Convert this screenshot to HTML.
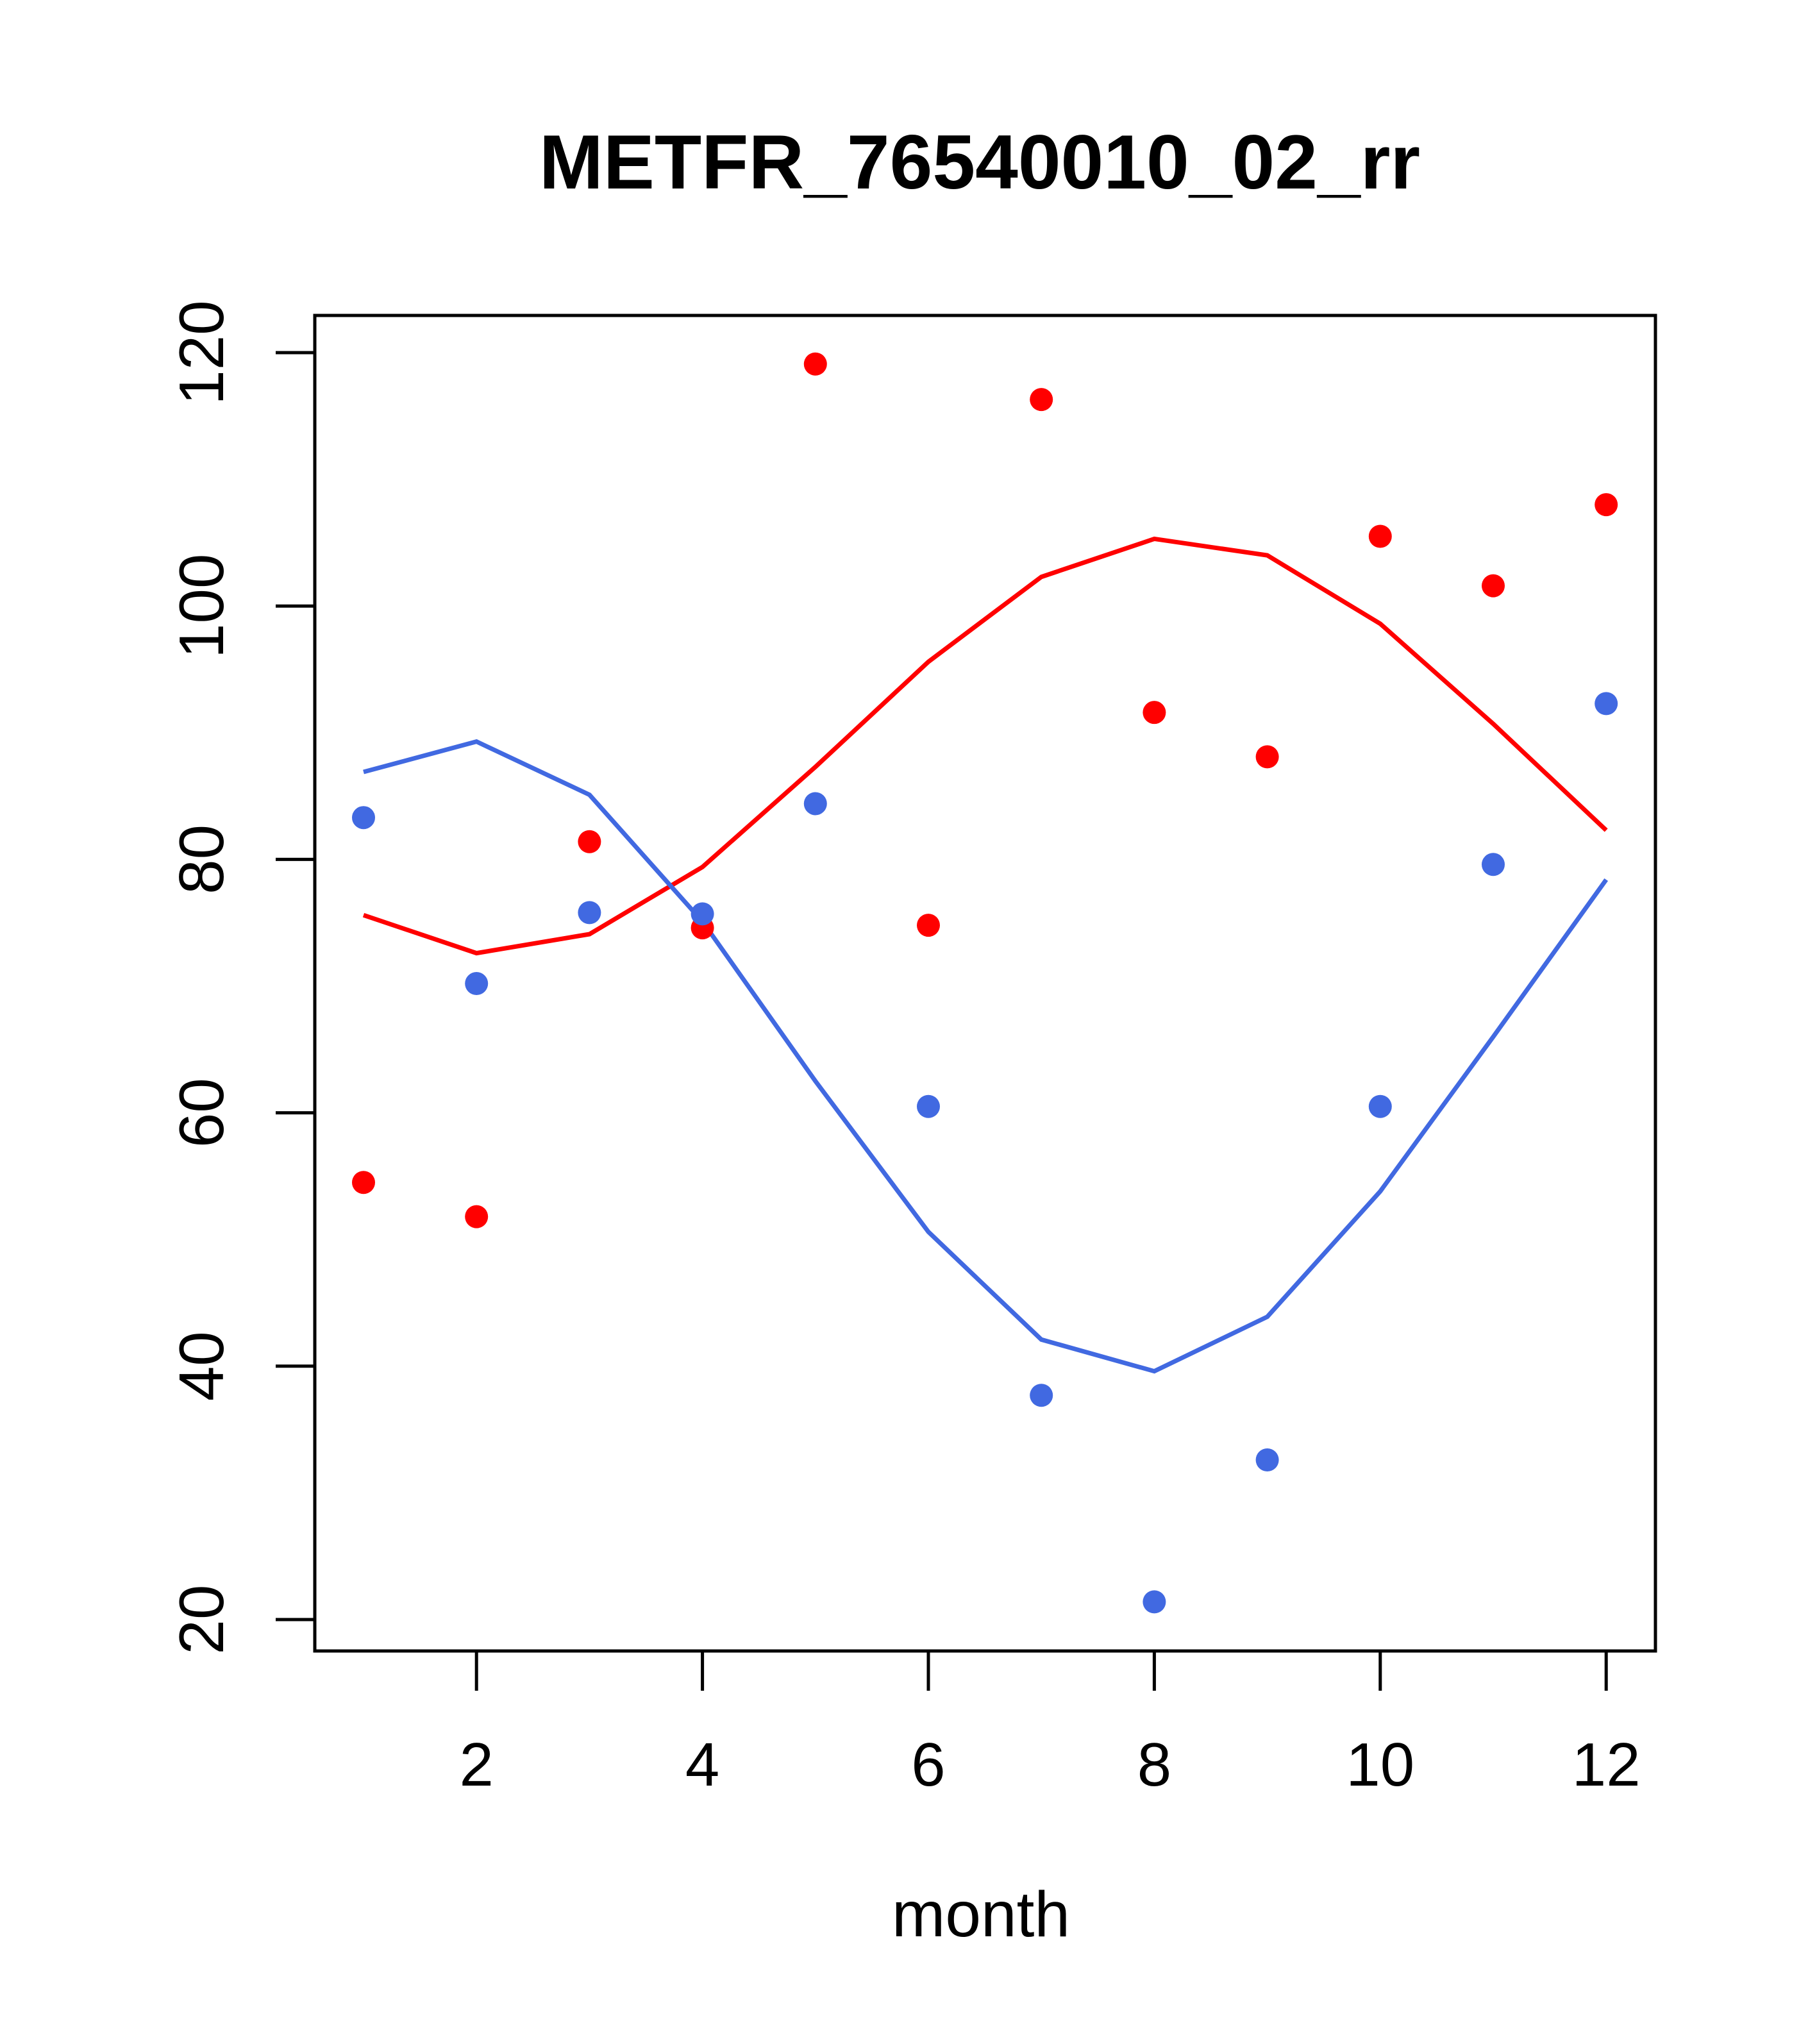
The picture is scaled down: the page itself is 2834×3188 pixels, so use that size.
<!DOCTYPE html>
<html><head><meta charset="utf-8"><style>
html,body{margin:0;padding:0;background:#fff}
svg{display:block}
text{font-family:"Liberation Sans",Arial,sans-serif;fill:#000}
</style></head><body>
<svg id="chart" width="2834" height="3188" viewBox="0 0 2834 3188" xmlns="http://www.w3.org/2000/svg">
<rect width="2834" height="3188" fill="#fff"/>
<text x="1528" y="253" text-anchor="middle" dominant-baseline="central" font-size="120" font-weight="bold">METFR_76540010_02_rr</text>
<g id="marks"></g>
<rect x="491" y="492" width="2091" height="2083" fill="none" stroke="#000" stroke-width="5"/>
<g id="xaxis"></g>
<g id="yaxis"></g>
<text x="1530" y="3020" text-anchor="middle" font-size="100">month</text>
</svg>
<script>
const months=[1,2,3,4,5,6,7,8,9,10,11,12];
const redPoints=[54.5,51.8,81.4,74.6,119.1,74.8,116.3,91.6,88.1,105.5,101.6,108.0];
const bluePoints=[83.3,70.2,75.8,75.7,84.4,60.5,37.7,21.4,32.6,60.5,79.6,92.3];
const redLine=[75.6,72.6,74.1,79.4,87.3,95.6,102.3,105.3,104.0,98.6,90.7,82.3];
const blueLine=[86.9,89.3,85.1,75.1,62.5,50.6,42.1,39.6,43.9,53.8,66.0,78.4];
const xTicks=[2,4,6,8,10,12];
const yTicks=[20,40,60,80,100,120];
const NS="http://www.w3.org/2000/svg";
function xs(v){return 567+(v-1)*176.2;}
function ys(v){return 550+(120-v)*19.76;}
function mk(tag,attrs,parent){const e=document.createElementNS(NS,tag);for(const k in attrs)e.setAttribute(k,attrs[k]);parent.appendChild(e);return e;}
const marks=document.getElementById('marks');
function drawLine(vals,color,name){
  const p=mk('polyline',{points:vals.map((v,i)=>xs(months[i])+','+ys(v)).join(' '),fill:'none',stroke:color,'stroke-width':7},marks);
  
  
}
function drawPts(vals,color,name){
  vals.forEach((v,i)=>{
    const c=mk('circle',{cx:xs(months[i]),cy:ys(v),r:18,fill:color},marks);
    
    
  });
}
drawLine(redLine,'#FF0000','red-line');
drawLine(blueLine,'#4169E1','blue-line');
drawPts(redPoints,'#FF0000','red-point');
drawPts(bluePoints,'#4169E1','blue-point');
const xa=document.getElementById('xaxis');
const xl=mk('line',{x1:xs(xTicks[0]),x2:xs(xTicks[xTicks.length-1]),y1:2575,y2:2575,stroke:'#000','stroke-width':5},xa);


xTicks.forEach(t=>{
  const l=mk('line',{x1:xs(t),x2:xs(t),y1:2575,y2:2637,stroke:'#000','stroke-width':5},xa);
  
  
  const tx=mk('text',{x:xs(t),y:2785,'text-anchor':'middle','font-size':96},xa);
  tx.textContent=t;
  
  
});
const ya=document.getElementById('yaxis');
const yl=mk('line',{x1:491,x2:491,y1:ys(yTicks[0]),y2:ys(yTicks[yTicks.length-1]),stroke:'#000','stroke-width':5},ya);


yTicks.forEach(t=>{
  const l=mk('line',{x1:430,x2:491,y1:ys(t),y2:ys(t),stroke:'#000','stroke-width':5},ya);
  
  
  const tx=mk('text',{x:0,y:0,'text-anchor':'middle','font-size':98,transform:'translate(348,'+ys(t)+') rotate(-90)'},ya);
  tx.textContent=t;
  
  
});
</script>
</body></html>
